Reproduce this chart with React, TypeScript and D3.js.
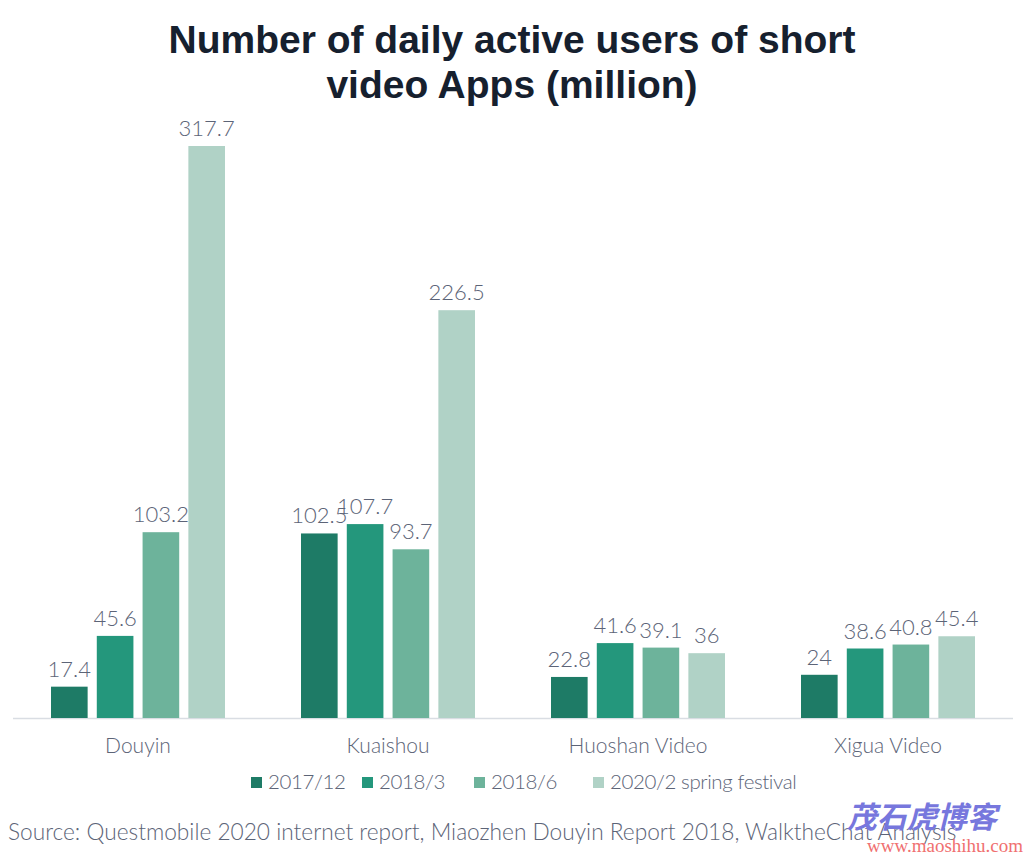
import React from "react";
import * as d3 from "d3";

const categories = ["Douyin", "Kuaishou", "Huoshan Video", "Xigua Video"];
const seriesNames = ["2017/12", "2018/3", "2018/6", "2020/2 spring festival"];
const s2017_12 = [17.4, 102.5, 22.8, 24];
const s2018_3 = [45.6, 107.7, 41.6, 38.6];
const s2018_6 = [103.2, 93.7, 39.1, 40.8];
const s2020_2 = [317.7, 226.5, 36, 45.4];
const seriesValues = [s2017_12, s2018_3, s2018_6, s2020_2];
const colors = ["#1e7b66", "#24977c", "#6db39b", "#b0d2c6"];
const title = ["Number of daily active users of short", "video Apps (million)"];
const source = "Source: Questmobile 2020 internet report, Miaozhen Douyin Report 2018, WalktheChat Analysis";

const W = 1024, H = 857;
const left = 13, right = 1013, base = 718;
const x0 = d3.scaleBand<string>().domain(categories).range([left, right]).paddingInner(0).paddingOuter(0);
const x1 = d3.scaleBand<string>().domain(seriesNames).range([38, 212]).paddingInner(0.2).paddingOuter(0);
const y = d3.scaleLinear().domain([0, 317.7]).range([base, 146]);
const textColor = "#5c6477";
const font = "Lato, sans-serif";

export default function App() {
  const legendX = [251, 362, 474, 593];
  return (
    <svg width={W} height={H} style={{ position: "absolute", left: 0, top: 0, background: "#fff" }}>
      {title.map((t, i) => (
        <text key={i} x={512} y={53 + i * 45} textAnchor="middle" fontFamily="Liberation Sans, Arial, sans-serif" fontWeight="bold" fontSize={39} fill="#16202e">{t}</text>
      ))}
      <line x1={left} x2={right} y1={base + 0.5} y2={base + 0.5} stroke="#d9dde3" strokeWidth={1.5} />
      {categories.map((c, ci) => (
        <g key={c} transform={`translate(${x0(c)},0)`}>
          {seriesNames.map((s, si) => {
            const v = seriesValues[si][ci];
            const bx = x1(s)!;
            const bw = x1.bandwidth();
            return (
              <g key={s}>
                <rect x={bx} y={y(v)} width={bw} height={base - y(v)} fill={colors[si]} />
                <text x={bx + bw / 2} y={y(v) - 10} textAnchor="middle" fontFamily={font} fontWeight={300} fontSize={22} fill={textColor}>{String(v)}</text>
              </g>
            );
          })}
          <text x={x0.bandwidth() / 2} y={753} textAnchor="middle" fontFamily={font} fontWeight={300} fontSize={21} fill={textColor}>{c}</text>
        </g>
      ))}
      {seriesNames.map((s, i) => (
        <g key={s} transform={`translate(${legendX[i]},0)`}>
          <rect x={0} y={777} width={11} height={11} fill={colors[i]} />
          <text x={17} y={789} fontFamily={font} fontWeight={300} fontSize={20.5} letterSpacing={-0.4} fill={textColor}>{s}</text>
        </g>
      ))}
      <text x={8} y={840} fontFamily={font} fontWeight={300} fontSize={22.7} fill={textColor}>{source}</text>
      <text x={922} y={828} textAnchor="middle" fontFamily="Noto Sans CJK SC, sans-serif" fontStyle="italic" fontWeight="bold" fontSize={30} fill="#7777dd">茂石虎博客</text>
      <text x={945} y={852} textAnchor="middle" fontFamily="Liberation Serif, serif" fontSize={19} fill="#f07070">www.maoshihu.com</text>
    </svg>
  );
}
